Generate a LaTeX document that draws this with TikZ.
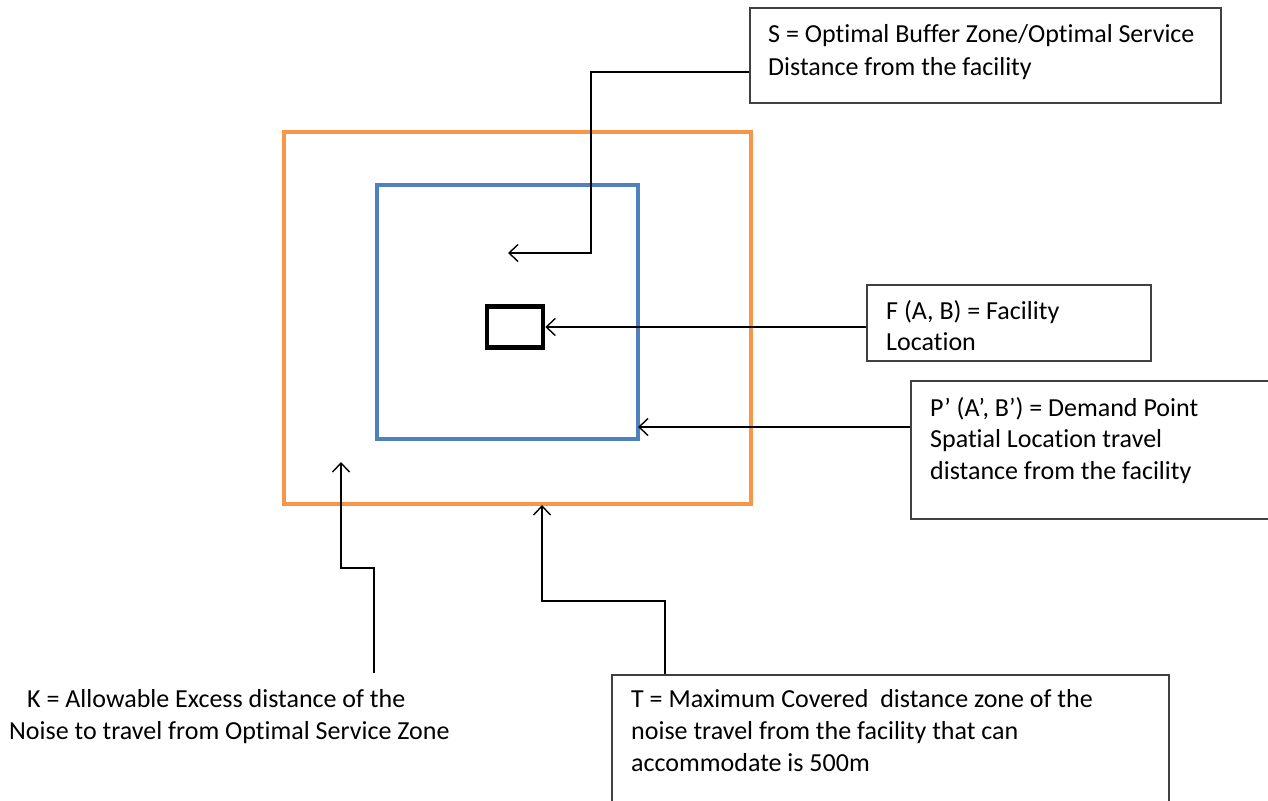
\documentclass[tikz,border=0pt]{standalone}
\usepackage{fontspec}
\setmainfont{Carlito}[Ligatures=NoCommon]
\usetikzlibrary{arrows.meta}
\definecolor{zoneorange}{HTML}{F79646}
\definecolor{zoneblue}{HTML}{4F81BD}
\definecolor{boxgray}{HTML}{404040}
\tikzset{
  labelbox/.style={draw=boxgray, line width=1.3pt, fill=white, inner sep=0pt},
  lbl/.style={anchor=base west, inner sep=0pt, font=\fontsize{26}{32}\selectfont},
  conn/.style={line width=1.6pt, -{Straight Barb[length=9pt,width=17pt,line width=1.4pt]}},
}
\begin{document}
\begin{tikzpicture}[x=1pt,y=-1pt]
\useasboundingbox (0,0) rectangle (1268,800);
% zones
\draw[zoneorange, line width=4.5pt] (284,132) rectangle (751,504);
\draw[zoneblue, line width=4pt] (377,185) rectangle (638,439);
\node[draw=black, line width=4.5pt, minimum width=56pt, minimum height=41pt, inner sep=0pt] (fac) at (515,327) {};
\coordinate (sin) at (508,253);
\coordinate (bluee) at (638,427);
\coordinate (orin) at (341,462);
\coordinate (orb) at (542,505);
% label boxes
\node[labelbox, minimum width=471pt, minimum height=95pt] (sbox) at (985.5,55.5) {};
\node[labelbox, minimum width=284pt, minimum height=76pt] (fbox) at (1009,323) {};
\node[labelbox, minimum width=362pt, minimum height=138pt] (pbox) at (1092,450) {};
\node[labelbox, minimum width=557pt, minimum height=140pt] (tbox) at (890.5,745) {};
% texts
\node[lbl] (s1) at (768,43) {S = Optimal Buffer Zone/Optimal Service};
\node[lbl] (s2) at (768,75) {Distance from the facility};
\node[lbl] (f1) at (886,319) {F (A, B) = Facility};
\node[lbl] (f2) at (886,350) {Location};
\node[lbl] (p1) at (930,416) {P’ (A’, B’) = Demand Point};
\node[lbl] (p2) at (930,447) {Spatial Location travel};
\node[lbl] (p3) at (930,479) {distance from the facility};
\node[lbl] (t1) at (631,707) {T = Maximum Covered \ distance zone of the};
\node[lbl] (t2) at (631,739) {noise travel from the facility that can};
\node[lbl] (t3) at (631,771) {accommodate is 500m};
\node[lbl] (k1) at (27,707) {K = Allowable Excess distance of the};
\node[lbl] (k2) at (9,739) {Noise to travel from Optimal Service Zone};
\coordinate (kstart) at (374,673);
% connectors
\draw[conn] (sbox.west |- 0,72) -- (591,72) -- (591,253) -- (sin);
\draw[conn] (fbox.west |- fac.east) -- (fac.east);
\draw[conn] (pbox.west |- bluee) -- (bluee);
\draw[conn] (kstart) -- (374,568) -- (341,568) -- (orin);
\draw[conn] (tbox.north -| 665,0) -- (665,601) -- (542,601) -- (orb);
\end{tikzpicture}
\end{document}
